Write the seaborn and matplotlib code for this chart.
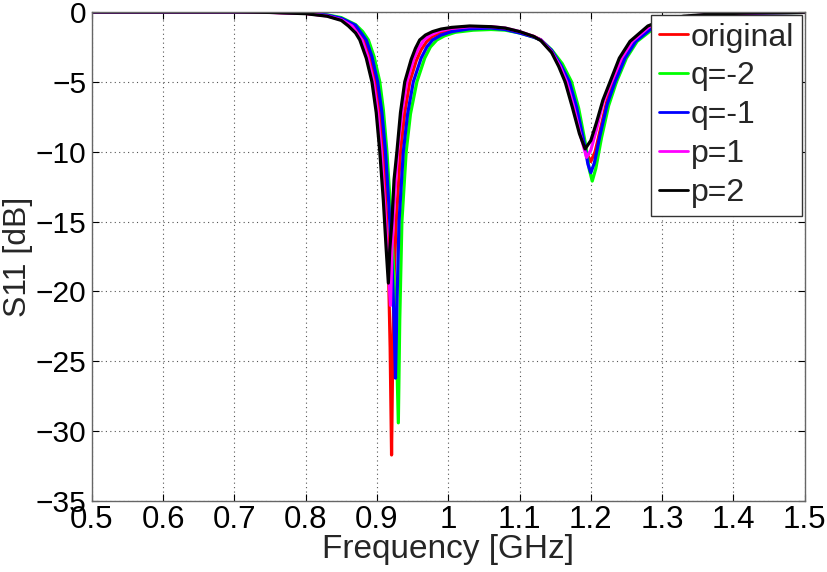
import matplotlib
matplotlib.use("Agg")
import matplotlib.pyplot as plt
import seaborn as sns
import pandas as pd

# ---- data ----
f_original = [0.5, 0.6, 0.7, 0.75, 0.8, 0.83, 0.85, 0.865, 0.875, 0.882, 0.89, 0.898, 0.904, 0.909, 0.913, 0.916, 0.9185, 0.9205,
              0.922, 0.924, 0.927, 0.933, 0.939, 0.946, 0.955, 0.962, 0.97, 0.978, 0.99, 1.005, 1.03, 1.06,
              1.08, 1.1, 1.12, 1.13, 1.145, 1.158, 1.168, 1.178, 1.188, 1.195, 1.2, 1.206, 1.213, 1.222, 1.231, 1.245, 1.26, 1.283,
              1.3, 1.33, 1.36, 1.4, 1.45, 1.5]
s_original = [0, 0, 0, -0.02, -0.1, -0.25, -0.5, -0.9, -1.4, -2.0, -3.1, -5.0, -7.2, -10, -14, -18, -24, -31.7,
              -25, -19, -15, -10, -7.2, -5.0, -3.5, -2.7, -2.1, -1.75, -1.45, -1.25, -1.1, -1.1,
              -1.2, -1.45, -1.75, -2.0, -2.8, -3.8, -5.0, -6.8, -8.9, -10.2, -10.7, -10.0, -8.5, -6.5, -5.0, -3.3, -2.1, -1.1,
              -0.7, -0.4, -0.25, -0.12, -0.06, -0.03]

f_q_m2 = [0.5, 0.6, 0.7, 0.75, 0.8, 0.83, 0.85, 0.87, 0.88, 0.888, 0.896, 0.904, 0.909, 0.914, 0.919, 0.923, 0.927, 0.930,
          0.932, 0.935, 0.941, 0.947, 0.956, 0.967, 0.975, 0.984, 0.995, 1.01, 1.035, 1.06,
          1.08, 1.1, 1.12, 1.13, 1.145, 1.16, 1.173, 1.183, 1.192, 1.198, 1.202, 1.207, 1.215, 1.225, 1.236, 1.25, 1.265, 1.29,
          1.31, 1.34, 1.37, 1.4, 1.45, 1.5]
s_q_m2 = [0, 0, 0, -0.02, -0.06, -0.2, -0.4, -0.9, -1.4, -2.0, -3.2, -5.0, -7.0, -10, -14, -18, -23, -29.4,
          -22, -15, -10, -7.3, -5.0, -3.3, -2.5, -2.0, -1.7, -1.45, -1.3, -1.25,
          -1.3, -1.5, -1.8, -2.0, -2.7, -3.7, -5.0, -6.9, -9.3, -11.3, -12.1, -11.2, -9.0, -6.7, -5.0, -3.3, -2.1, -1.1,
          -0.7, -0.4, -0.25, -0.14, -0.07, -0.03]

f_q_m1 = [0.5, 0.6, 0.7, 0.75, 0.8, 0.83, 0.85, 0.87, 0.885, 0.893, 0.901, 0.907, 0.912, 0.917, 0.921, 0.924, 0.926,
          0.928, 0.931, 0.937, 0.943, 0.951, 0.962, 0.97, 0.978, 0.99, 1.005, 1.03, 1.06,
          1.08, 1.1, 1.12, 1.13, 1.145, 1.158, 1.17, 1.18, 1.19, 1.196, 1.2, 1.205, 1.213, 1.223, 1.234, 1.248, 1.263, 1.287,
          1.31, 1.34, 1.37, 1.4, 1.45, 1.5]
s_q_m1 = [0, 0, 0, -0.02, -0.07, -0.22, -0.45, -0.95, -2.0, -3.2, -5.0, -7.2, -10, -14, -18, -22, -26.2,
          -21, -15, -10, -7.3, -5.0, -3.3, -2.5, -2.0, -1.65, -1.4, -1.2, -1.15,
          -1.25, -1.5, -1.8, -2.0, -2.75, -3.8, -5.0, -6.8, -9.2, -10.9, -11.5, -10.8, -8.8, -6.6, -5.0, -3.3, -2.1, -1.1,
          -0.65, -0.38, -0.23, -0.13, -0.06, -0.03]

f_p_1 = [0.5, 0.6, 0.7, 0.75, 0.8, 0.83, 0.85, 0.865, 0.879, 0.887, 0.895, 0.901, 0.906, 0.911, 0.915, 0.919,
         0.921, 0.924, 0.929, 0.935, 0.942, 0.952, 0.959, 0.966, 0.975, 0.988, 1.003, 1.03, 1.06,
         1.08, 1.1, 1.12, 1.13, 1.145, 1.157, 1.166, 1.176, 1.186, 1.194, 1.2, 1.208, 1.217, 1.229, 1.243, 1.258, 1.282,
         1.3, 1.33, 1.36, 1.4, 1.45, 1.5]
s_p_1 = [0, 0, 0, -0.03, -0.1, -0.28, -0.55, -1.0, -2.0, -3.2, -5.0, -7.2, -10, -14, -17.5, -21,
         -17, -14, -10, -7.2, -5.0, -3.3, -2.55, -2.0, -1.65, -1.35, -1.18, -1.05, -1.05,
         -1.15, -1.4, -1.75, -2.0, -2.85, -3.9, -5.0, -6.8, -8.9, -10.4, -9.9, -8.4, -6.5, -5.0, -3.3, -2.1, -1.05,
         -0.65, -0.35, -0.2, -0.11, -0.05, -0.02]

f_p_2 = [0.5, 0.6, 0.7, 0.75, 0.8, 0.83, 0.85, 0.86, 0.87, 0.876, 0.885, 0.893, 0.899, 0.904, 0.909, 0.913, 0.916,
         0.918, 0.921, 0.924, 0.928, 0.933, 0.939, 0.948, 0.954, 0.96, 0.968, 0.978, 0.99, 1.005, 1.03, 1.06,
         1.08, 1.1, 1.12, 1.13, 1.145, 1.155, 1.164, 1.174, 1.184, 1.192, 1.2, 1.208, 1.217, 1.227, 1.24, 1.255, 1.28,
         1.3, 1.33, 1.36, 1.4, 1.45, 1.5]
s_p_2 = [0, 0, 0, -0.03, -0.12, -0.3, -0.6, -1.0, -1.5, -2.0, -3.3, -5.0, -7.2, -10, -13.5, -17, -19.4,
         -17, -15, -12, -10, -7.2, -5.0, -3.4, -2.6, -2.0, -1.65, -1.4, -1.22, -1.1, -1.0, -1.05,
         -1.15, -1.4, -1.75, -2.05, -2.9, -3.9, -5.0, -6.8, -8.7, -9.8, -9.2, -7.9, -6.3, -5.0, -3.3, -2.1, -1.0,
         -0.6, -0.3, -0.18, -0.1, -0.05, -0.02]

series_names = ["original", "q=-2", "q=-1", "p=1", "p=2"]
series_colors = ["#ff0000", "#00ff00", "#0000ff", "#ff00ff", "#000000"]
x_ticks = [0.5, 0.6, 0.7, 0.8, 0.9, 1.0, 1.1, 1.2, 1.3, 1.4, 1.5]
x_tick_labels = ["0.5", "0.6", "0.7", "0.8", "0.9", "1", "1.1", "1.2", "1.3", "1.4", "1.5"]
y_ticks = [-35, -30, -25, -20, -15, -10, -5, 0]

# ---- figure ----
sns.set_theme(style="white")
plt.rcParams["font.family"] = ["Liberation Sans", "DejaVu Sans"]

fig = plt.figure(figsize=(8.27, 5.72), dpi=100)
ax = fig.add_axes([0.111, 0.124, 0.862, 0.855])

xs = [f_original, f_q_m2, f_q_m1, f_p_1, f_p_2]
ys = [s_original, s_q_m2, s_q_m1, s_p_1, s_p_2]
frames = []
for name, fx, sy in zip(series_names, xs, ys):
    frames.append(pd.DataFrame({"Frequency": fx, "S11": sy, "series": name}))
df = pd.concat(frames, ignore_index=True)

for name, col in zip(series_names, series_colors):
    sub = df[df["series"] == name]
    sns.lineplot(data=sub, x="Frequency", y="S11", color=col, linewidth=2.3,
                 label=name, sort=False, ax=ax, estimator=None)

ax.set_xlim(0.5, 1.5)
ax.set_ylim(-35, 0)
ax.set_xticks(x_ticks)
ax.set_xticklabels(x_tick_labels)
ax.set_yticks(y_ticks)
ax.grid(True, color="#555555", linestyle=(0, (1, 3)), linewidth=0.8)
ax.tick_params(direction="in", length=5, width=0.8, colors="black",
               top=True, right=True, bottom=True, left=True)
ax.tick_params(axis="x", labelsize=22.5, pad=3)
ax.tick_params(axis="y", labelsize=21.5, pad=4)
for s in ax.spines.values():
    s.set_color("#666666")
    s.set_linewidth(1.0)

ax.set_xlabel("Frequency [GHz]", fontsize=24, labelpad=-1)
ax.set_ylabel("S11 [dB]", fontsize=23, labelpad=2)

leg = ax.legend(loc="upper right", fontsize=23, frameon=True, fancybox=False,
                edgecolor="#333333", framealpha=1, borderaxespad=0.08,
                handlelength=0.9, handletextpad=0.1, labelspacing=0.28,
                borderpad=0.25)
leg.get_frame().set_linewidth(1.0)
for h in leg.get_lines():
    h.set_linewidth(2.0)

fig.savefig("out.png", dpi=100)
